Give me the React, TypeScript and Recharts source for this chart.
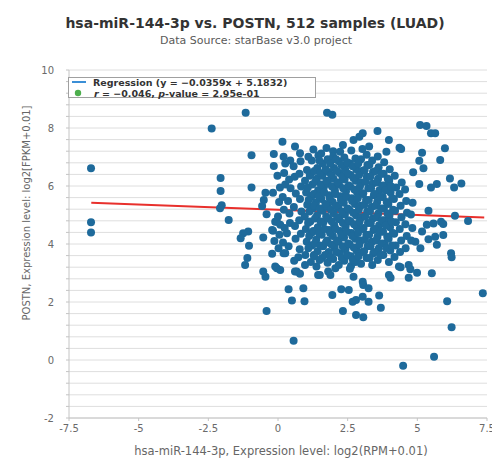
import React from 'react';
import { ScatterChart, Scatter, XAxis, YAxis, CartesianGrid } from 'recharts';

const TITLE = 'hsa-miR-144-3p vs. POSTN, 512 samples (LUAD)';
const SUBTITLE = 'Data Source: starBase v3.0 project';
const X_LABEL = 'hsa-miR-144-3p, Expression level: log2(RPM+0.01)';
const Y_LABEL = 'POSTN, Expression level: log2[FPKM+0.01]';

const xTicks = [-7.5, -5, -2.5, 0, 2.5, 5, 7.5];
const yTicks = [-2, -1.6, -1.2, -0.8, -0.4, 0, 0.4, 0.8, 1.2, 1.6, 2, 2.4, 2.8, 3.2, 3.6, 4, 4.4, 4.8, 5.2, 5.6, 6, 6.4, 6.8, 7.2, 7.6, 8, 8.4, 8.8, 9.2, 9.6, 10];
const yLabelled = [-2, 0, 2, 4, 6, 8, 10];

const regression = [
  [-6.7, 5.424],
  [7.4, 4.918],
];

const leftPoints = [
  [-6.71, 6.61], [-6.71, 4.75], [-6.71, 4.4],
  [-2.38, 7.98], [-1.16, 8.53], [-0.95, 7.06], [-2.06, 6.28], [-2.06, 5.83], [-2.02, 5.34], [-2.08, 5.23],
  [-1.77, 4.83], [-0.95, 5.95], [-1.07, 4.43], [-1.25, 4.37], [-1.34, 4.2], [-1.04, 3.94], [-1.1, 3.52],
  [-1.18, 3.28], [-0.45, 5.77], [-0.51, 5.52], [-0.57, 5.31], [-0.41, 5.03], [-0.53, 4.22], [-0.53, 3.05],
  [-0.45, 2.87], [-0.41, 1.69],
  [-0.18, 5.77], [-0.15, 7.1], [-0.15, 6.69], [-0.1, 4.77], [-0.18, 4.46], [-0.13, 4.1], [-0.21, 3.66],
  [-0.1, 3.22], [-0.21, 4.48], [-0.04, 4.77], [0.08, 4.66], [0.32, 4.37], [-0.04, 3.16], [0.08, 3.1], [0.2, 3.68],
];

const topFringe = [
  [1.76, 8.53], [1.95, 8.46], [5.1, 8.1], [5.33, 8.07], [5.49, 7.82], [5.64, 7.82], [5.99, 7.3], [5.82, 6.9],
  [5.17, 7.15], [5.07, 6.87], [5.22, 6.61], [4.85, 6.47], [6.17, 6.26], [6.32, 5.95], [6.58, 6.09], [5.7, 6.07],
  [5.49, 5.95], [5.07, 6.07], [3.57, 7.9], [3.98, 7.59], [4.36, 7.32], [4.42, 7.28], [3.89, 7.18], [3.04, 7.82],
  [2.92, 7.7], [3.27, 7.36], [0.16, 7.53], [0.2, 7.01], [0.26, 6.78], [0.61, 7.36], [0.79, 7.13], [1.27, 7.26],
  [1.09, 7.01], [1.74, 7.31], [1.98, 7.2], [2.33, 7.41], [2.71, 7.59],
];

const rightFringe = [
  [6.35, 4.97], [6.82, 4.79], [5.4, 5.15], [5.34, 4.66], [5.58, 4.71], [5.85, 4.77], [5.93, 4.69], [5.17, 4.43],
  [4.93, 4.08], [5.11, 3.85], [5.4, 4.16], [5.64, 4.25], [5.93, 4.31], [5.7, 3.97], [6.21, 3.68], [6.23, 3.54],
  [5.52, 2.99], [4.99, 3.01], [4.4, 3.2], [4.69, 3.28], [4.75, 3.13], [4.69, 2.84], [3.98, 2.93], [4.04, 2.84],
  [4.34, 3.22],
];

const lowFringe = [
  [7.35, 2.3], [6.07, 2.03], [6.23, 1.13], [5.6, 0.11], [4.49, -0.2], [0.56, 0.66], [0.38, 2.44], [0.5, 2.05],
  [0.91, 2.47], [0.95, 2.03], [1.95, 2.24], [2.27, 2.44], [2.54, 2.41], [2.33, 1.69], [2.8, 1.55], [3.06, 1.47],
  [2.68, 2.01], [2.8, 2.07], [3.04, 2.18], [3.25, 2.01], [3.04, 2.7], [3.06, 2.59], [3.25, 2.47], [3.63, 2.22],
  [3.69, 1.8], [1.5, 2.93], [1.8, 3.05], [1.88, 2.93], [2.06, 3.16], [0.67, 3.05], [0.79, 2.97], [0.26, 3.68],
  [0.73, 3.54], [0.97, 3.28], [1.29, 3.62], [2.62, 3.24], [2.71, 2.87], [1.44, 2.93], [0.61, 3.05],
];

const corePoints = [
  [0.02, 3.85], [0.05, 4.32], [0.0, 4.95], [0.04, 5.45], [0.07, 5.95], [-0.02, 6.35],
  [0.18, 4.05], [0.24, 4.55], [0.21, 5.18], [0.17, 5.62], [0.26, 6.05], [0.22, 6.45],
  [0.38, 3.92], [0.43, 4.72], [0.41, 5.05], [0.36, 5.48], [0.45, 5.92], [0.4, 6.22], [0.44, 6.88],
  [0.58, 3.42], [0.63, 4.18], [0.61, 4.62], [0.57, 5.28], [0.64, 5.74], [0.6, 6.32], [0.56, 6.68],
  [0.78, 3.82], [0.82, 4.35], [0.76, 4.82], [0.84, 5.12], [0.79, 5.55], [0.83, 5.98], [0.77, 6.42], [0.81, 6.85],
  [0.98, 3.62], [1.03, 4.08], [1.0, 4.52], [0.96, 4.95], [1.05, 5.35], [1.01, 5.78], [0.97, 6.18], [1.04, 6.55],
  [1.18, 3.38], [1.22, 3.95], [1.2, 4.38], [1.16, 4.78], [1.24, 5.22], [1.19, 5.62], [1.23, 6.05], [1.17, 6.42], [1.21, 6.88],
  [1.38, 3.22], [1.42, 3.75], [1.37, 4.15], [1.43, 4.58], [1.4, 4.98], [1.36, 5.42], [1.44, 5.85], [1.39, 6.25], [1.41, 6.62], [1.45, 7.05],
  [1.58, 3.52], [1.62, 3.92], [1.57, 4.32], [1.63, 4.75], [1.6, 5.15], [1.56, 5.55], [1.64, 5.95], [1.59, 6.35], [1.61, 6.78], [1.55, 7.12],
  [1.78, 3.35], [1.82, 3.72], [1.76, 4.12], [1.83, 4.48], [1.8, 4.88], [1.77, 5.28], [1.84, 5.68], [1.79, 6.08], [1.81, 6.48], [1.78, 6.92],
  [1.98, 3.48], [2.03, 3.88], [1.97, 4.28], [2.02, 4.65], [2.0, 5.05], [1.96, 5.45], [2.04, 5.85], [1.99, 6.25], [2.01, 6.62], [1.98, 7.02],
  [2.18, 3.28], [2.22, 3.68], [2.17, 4.08], [2.23, 4.45], [2.2, 4.85], [2.16, 5.25], [2.24, 5.65], [2.19, 6.05], [2.21, 6.45], [2.18, 6.85], [2.23, 7.18],
  [2.38, 3.42], [2.42, 3.82], [2.37, 4.22], [2.43, 4.62], [2.4, 5.02], [2.36, 5.42], [2.44, 5.82], [2.39, 6.22], [2.41, 6.58], [2.38, 6.98],
  [2.58, 3.15], [2.62, 3.58], [2.57, 3.98], [2.63, 4.38], [2.6, 4.78], [2.56, 5.18], [2.64, 5.58], [2.59, 5.98], [2.61, 6.38], [2.58, 6.78], [2.63, 7.22],
  [2.78, 3.38], [2.82, 3.78], [2.77, 4.18], [2.83, 4.58], [2.8, 4.98], [2.76, 5.38], [2.84, 5.78], [2.79, 6.18], [2.81, 6.58], [2.78, 6.95],
  [2.98, 3.32], [3.03, 3.72], [2.97, 4.12], [3.02, 4.52], [3.0, 4.92], [2.96, 5.32], [3.04, 5.72], [2.99, 6.12], [3.01, 6.52], [2.98, 6.92], [3.03, 7.28],
  [3.18, 3.52], [3.22, 3.92], [3.17, 4.32], [3.23, 4.72], [3.2, 5.12], [3.16, 5.52], [3.24, 5.92], [3.19, 6.32], [3.21, 6.72], [3.18, 7.08],
  [3.38, 3.28], [3.42, 3.68], [3.37, 4.08], [3.43, 4.48], [3.4, 4.88], [3.36, 5.28], [3.44, 5.68], [3.39, 6.08], [3.41, 6.48], [3.38, 6.88],
  [3.58, 3.45], [3.62, 3.85], [3.57, 4.25], [3.63, 4.65], [3.6, 5.05], [3.56, 5.45], [3.64, 5.85], [3.59, 6.25], [3.61, 6.65], [3.58, 7.02],
  [3.78, 3.62], [3.82, 4.02], [3.77, 4.42], [3.83, 4.82], [3.8, 5.22], [3.76, 5.62], [3.84, 6.02], [3.79, 6.42], [3.81, 6.82],
  [3.98, 3.38], [4.03, 3.78], [3.97, 4.18], [4.02, 4.58], [4.0, 4.98], [3.96, 5.38], [4.04, 5.78], [3.99, 6.18], [4.01, 6.58],
  [4.18, 3.55], [4.22, 3.95], [4.17, 4.35], [4.23, 4.75], [4.2, 5.15], [4.16, 5.55], [4.24, 5.95], [4.19, 6.35],
  [4.38, 3.72], [4.42, 4.12], [4.37, 4.52], [4.43, 4.92], [4.4, 5.32], [4.36, 5.72], [4.44, 6.12],
  [4.58, 3.85], [4.62, 4.28], [4.57, 4.68], [4.63, 5.08], [4.6, 5.48], [4.56, 5.88],
  [4.78, 4.12], [4.82, 4.55], [4.77, 5.02], [4.83, 5.42],
];

const coreInner = [
  [1.09, 3.85], [1.12, 4.28], [1.08, 4.72], [1.13, 5.12], [1.1, 5.52], [1.07, 5.95], [1.14, 6.35],
  [1.29, 3.58], [1.32, 4.02], [1.27, 4.45], [1.33, 4.88], [1.3, 5.32], [1.28, 5.72], [1.34, 6.15], [1.31, 6.52],
  [1.49, 3.45], [1.52, 3.95], [1.47, 4.38], [1.53, 4.78], [1.5, 5.22], [1.46, 5.65], [1.54, 6.05], [1.51, 6.45], [1.48, 6.88],
  [1.69, 3.62], [1.72, 4.05], [1.67, 4.52], [1.73, 4.95], [1.7, 5.38], [1.66, 5.78], [1.74, 6.18], [1.71, 6.58],
  [1.89, 3.55], [1.92, 3.98], [1.87, 4.38], [1.93, 4.78], [1.9, 5.18], [1.86, 5.58], [1.94, 5.98], [1.91, 6.38], [1.88, 6.78],
  [2.09, 3.72], [2.12, 4.12], [2.07, 4.52], [2.13, 4.92], [2.1, 5.32], [2.06, 5.72], [2.14, 6.12], [2.11, 6.52], [2.08, 6.92],
  [2.29, 3.52], [2.32, 3.92], [2.27, 4.32], [2.33, 4.72], [2.3, 5.12], [2.26, 5.52], [2.34, 5.92], [2.31, 6.32], [2.28, 6.72],
  [2.49, 3.62], [2.52, 4.02], [2.47, 4.42], [2.53, 4.82], [2.5, 5.22], [2.46, 5.62], [2.54, 6.02], [2.51, 6.42], [2.48, 6.82],
  [2.69, 3.45], [2.72, 3.88], [2.67, 4.28], [2.73, 4.68], [2.7, 5.08], [2.66, 5.48], [2.74, 5.88], [2.71, 6.28], [2.68, 6.68],
  [2.89, 3.58], [2.92, 3.98], [2.87, 4.38], [2.93, 4.78], [2.9, 5.18], [2.86, 5.58], [2.94, 5.98], [2.91, 6.38], [2.88, 6.78],
  [3.09, 3.75], [3.12, 4.15], [3.07, 4.55], [3.13, 4.95], [3.1, 5.35], [3.06, 5.75], [3.14, 6.15], [3.11, 6.55],
  [3.29, 3.52], [3.32, 3.92], [3.27, 4.32], [3.33, 4.72], [3.3, 5.12], [3.26, 5.52], [3.34, 5.92], [3.31, 6.32], [3.28, 6.72],
  [3.49, 3.72], [3.52, 4.12], [3.47, 4.52], [3.53, 4.92], [3.5, 5.32], [3.46, 5.72], [3.54, 6.12], [3.51, 6.52],
  [3.69, 3.62], [3.72, 4.02], [3.67, 4.42], [3.73, 4.82], [3.7, 5.22], [3.66, 5.62], [3.74, 6.02], [3.71, 6.42],
  [3.89, 3.85], [3.92, 4.25], [3.87, 4.65], [3.93, 5.05], [3.9, 5.45], [3.86, 5.85], [3.94, 6.25],
  [4.09, 3.95], [4.12, 4.38], [4.07, 4.78], [4.13, 5.18], [4.1, 5.58], [4.06, 5.98],
];

const toObj = (arr: number[][]) => arr.map(([x, y]) => ({ x, y }));
const samples = toObj([...leftPoints, ...topFringe, ...rightFringe, ...lowFringe, ...corePoints, ...coreInner]);
const regData = toObj(regression);

const POINT = '#1e6a9b';
const FONT = '"DejaVu Sans", Verdana, sans-serif';

const Dot = (props: any) => <circle cx={props.cx} cy={props.cy} r={4} fill={POINT} />;
const NoDot = () => <g />;

const fmtY = (v: number) => (yLabelled.includes(v) ? String(v) : '');

export default function App() {
  return (
    <div style={{ position: 'relative', width: 500, height: 468, margin: -8, background: '#ffffff', fontFamily: FONT }}>
      <ScatterChart width={500} height={468} margin={{ top: 70, right: 13, bottom: 20, left: 0 }}>
        <CartesianGrid vertical={false} stroke="#dedede" strokeWidth={1} />
        <XAxis
          type="number"
          dataKey="x"
          domain={[-7.5, 7.5]}
          ticks={xTicks}
          height={30}
          tickSize={3}
          tickMargin={4}
          stroke="#c4c4c4"
          tick={{ fill: '#6a6a6a', fontSize: 10, fontFamily: FONT }}
          allowDataOverflow
        />
        <YAxis
          type="number"
          dataKey="y"
          domain={[-2, 10]}
          ticks={yTicks}
          interval={0}
          width={69}
          tickSize={3}
          tickMargin={12}
          tickFormatter={fmtY}
          stroke="#c4c4c4"
          tick={{ fill: '#6a6a6a', fontSize: 10, fontFamily: FONT }}
          allowDataOverflow
        />
        <Scatter
          data={regData}
          isAnimationActive={false}
          line={{ stroke: '#e8302c', strokeWidth: 2 }}
          shape={NoDot}
        />
        <Scatter data={samples} isAnimationActive={false} shape={Dot} />
      </ScatterChart>
      <svg width={500} height={468} style={{ position: 'absolute', left: 0, top: 0, pointerEvents: 'none' }}>
        <rect x={4.5} y={4.5} width={493} height={460} fill="none" stroke="#a9b6c5" strokeWidth={2} />
        <text x={255} y={28} textAnchor="middle" fontSize={14} fontWeight="bold" fill="#333" fontFamily={FONT}>{TITLE}</text>
        <text x={256} y={44} textAnchor="middle" fontSize={11} fill="#5a5a5a" fontFamily={FONT}>{SUBTITLE}</text>
        <text x={281} y={455} textAnchor="middle" fontSize={11.5} fill="#666" fontFamily={FONT}>{X_LABEL}</text>
        <text transform="translate(30,213) rotate(-90)" textAnchor="middle" fontSize={10} fill="#666" fontFamily={FONT}>{Y_LABEL}</text>
        <rect x={68.5} y={77.5} width={247} height={20} fill="#fff" stroke="#a0a0a0" strokeWidth={1} />
        <line x1={72} y1={82} x2={86} y2={82} stroke="#3b8fd6" strokeWidth={2} />
        <text x={93} y={86} fontSize={9.5} fontWeight="bold" fill="#333" fontFamily={FONT}>Regression (y = −0.0359x + 5.1832)</text>
        <circle cx={78} cy={93} r={3.2} fill="#4cae4c" />
        <text x={94} y={96.5} fontSize={9.5} fontWeight="bold" fill="#333" fontFamily={FONT}>
          <tspan fontStyle="italic">r</tspan> = −0.046, <tspan fontStyle="italic">p</tspan>-value = 2.95e-01
        </text>
      </svg>
    </div>
  );
}
